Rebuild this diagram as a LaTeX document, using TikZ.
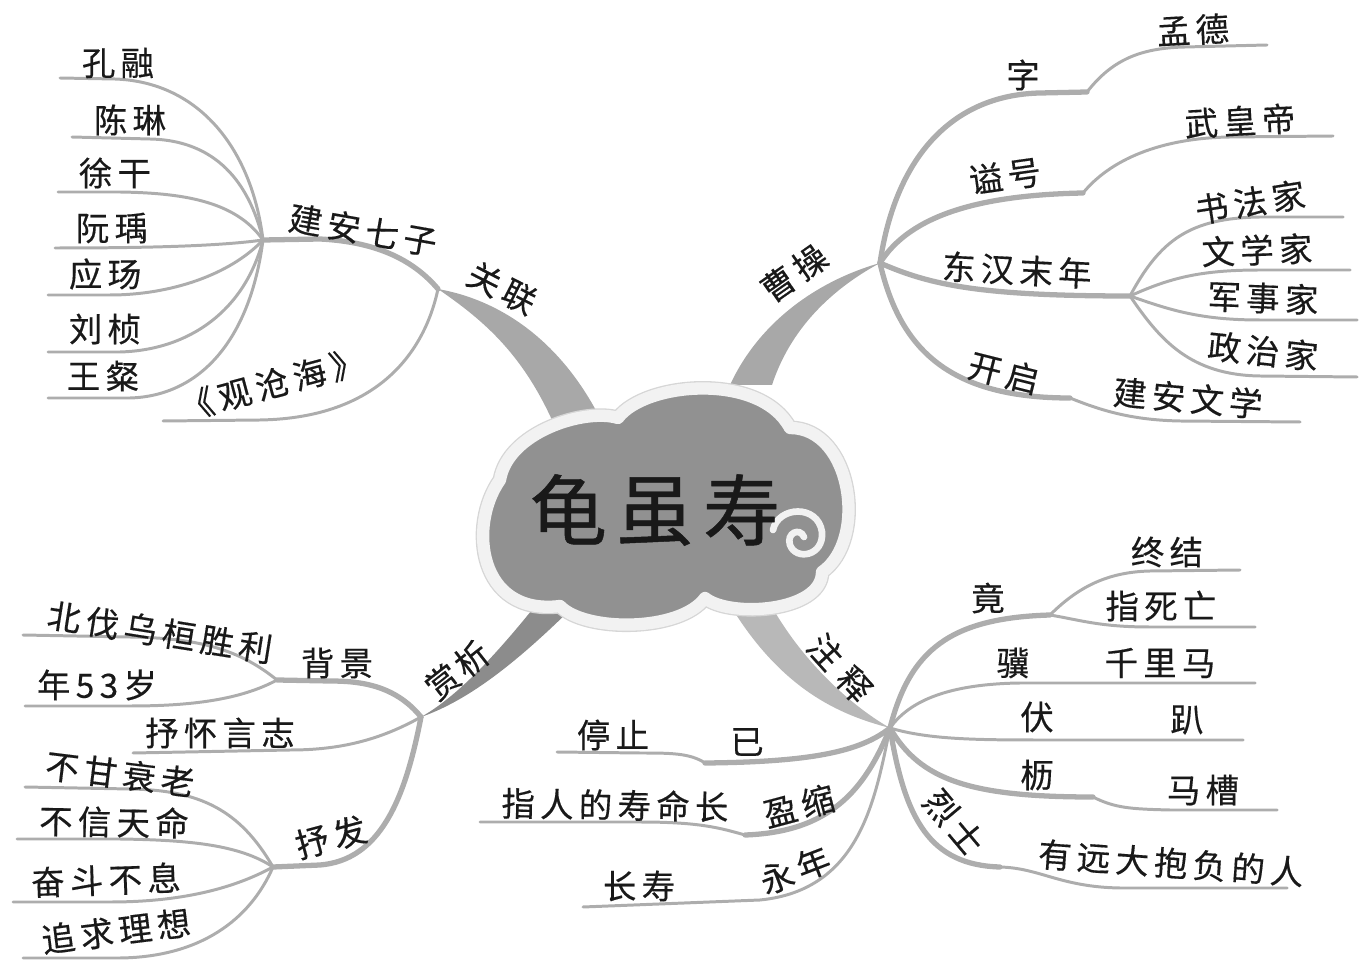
\documentclass[tikz,border=0pt]{standalone}
\usepackage{fontspec}
\newfontfamily\cjk[LetterSpace=16,FakeBold=0.4]{Noto Sans CJK SC}
\newfontfamily\cjkt[LetterSpace=12,FakeBold=0.6]{Noto Sans CJK SC}
\definecolor{lc}{gray}{0.68}
\definecolor{txt}{gray}{0.1}
\definecolor{brA}{gray}{0.66}
\definecolor{brB}{gray}{0.55}
\definecolor{brC}{gray}{0.72}
\definecolor{cloudfill}{gray}{0.57}
\definecolor{cloudring}{gray}{0.95}
\definecolor{cloudedge}{gray}{0.84}
\tikzset{
  lbl/.style={font=\cjk\fontsize{19}{21}\selectfont, text=txt, inner sep=0pt},
  leaf/.style={draw=lc, line width=1.7pt, line cap=round},
  midline/.style={draw=lc, line width=3pt, line cap=round},
  trunk/.style={fill=#1, draw=none},
}
\begin{document}
\begin{tikzpicture}[x=0.02cm, y=-0.02cm]
\useasboundingbox (0,0) rectangle (1363,962);

% ---------- junction coordinates ----------
\coordinate (J1) at (438,289);
\coordinate (J2) at (263,240);
\coordinate (J3) at (880,263);
\coordinate (J4) at (1130,296);
\coordinate (J5) at (421,717);
\coordinate (J6) at (277,680);
\coordinate (J7) at (273,867);
\coordinate (J8) at (890,728);
\coordinate (J9) at (1050,615);
% kinks
\coordinate (K1) at (1087,92);
\coordinate (K2) at (1083,193);
\coordinate (K3) at (1070,398);
\coordinate (K4) at (705,763);
\coordinate (K5) at (745,835);
\coordinate (K6) at (1093,797);
\coordinate (K7) at (1000,867);
% leaf ends
\coordinate (eKR) at (60,78);
\coordinate (eCL) at (72,137);
\coordinate (eXG) at (58,192);
\coordinate (eRY) at (55,248);
\coordinate (eYY) at (48,295);
\coordinate (eLZ) at (48,352);
\coordinate (eWC) at (48,398);
\coordinate (eGC) at (163,421);
\coordinate (eMD) at (1267,45);
\coordinate (eWH) at (1333,136);
\coordinate (eSF) at (1343,217);
\coordinate (eWX) at (1350,270);
\coordinate (eJS) at (1357,320);
\coordinate (eZZ) at (1357,377);
\coordinate (eJA) at (1300,422);
\coordinate (eBF) at (23,635);
\coordinate (eNS) at (25,706);
\coordinate (eSH) at (133,753);
\coordinate (eBG) at (25,787);
\coordinate (eBX) at (17,839);
\coordinate (eFD) at (13,902);
\coordinate (eZQ) at (23,958);
\coordinate (eTZ) at (557,752);
\coordinate (eZR) at (480,822);
\coordinate (eCS) at (583,907);
\coordinate (eZJ) at (1240,570);
\coordinate (eSW) at (1255,627);
\coordinate (eQL) at (1255,683);
\coordinate (ePA) at (1243,740);
\coordinate (eMC) at (1277,810);
\coordinate (eYY2) at (1287,888);
% trunk bases at the cloud
\coordinate (B1a) at (600,418);
\coordinate (B1b) at (552,420);
\coordinate (B2a) at (730,385);
\coordinate (B2b) at (772,385);
\coordinate (B3a) at (580,600);
\coordinate (B3b) at (540,600);
\coordinate (B4a) at (727,600);
\coordinate (B4b) at (767,598);

% ---------- trunks ----------
\path[trunk=brA] (J1) .. controls (500,300) and (560,340) .. (B1a) -- (B1b) .. controls (520,350) and (480,318) .. (J1) -- cycle;
\path[trunk=brA] (J3) .. controls (820,280) and (760,320) .. (B2a) -- (B2b) .. controls (790,330) and (830,290) .. (J3) -- cycle;
\path[trunk=brB] (J5) .. controls (470,700) and (520,660) .. (B3a) -- (B3b) .. controls (500,650) and (460,695) .. (J5) -- cycle;
\path[trunk=brC] (J8) .. controls (840,715) and (780,690) .. (B4a) -- (B4b) .. controls (800,660) and (850,705) .. (J8) -- cycle;

% ---------- top-left group ----------
\draw[midline] (J2) -- (320,239) .. controls (380,242) and (415,262) .. (J1);
\draw[leaf] (J1) .. controls (425,350) and (380,418) .. (260,420) -- (eGC);
\draw[leaf] (J2) .. controls (252,150) and (200,82) .. (115,79) -- (eKR);
\draw[leaf] (J2) .. controls (245,165) and (200,140) .. (150,139) -- (eCL);
\draw[leaf] (J2) .. controls (235,200) and (180,193) .. (120,192) -- (eXG);
\draw[leaf] (J2) .. controls (220,246) and (150,248) .. (eRY);
\draw[leaf] (J2) .. controls (230,275) and (170,295) .. (110,295) -- (eYY);
\draw[leaf] (J2) .. controls (245,310) and (190,350) .. (120,352) -- (eLZ);
\draw[leaf] (J2) .. controls (250,340) and (200,396) .. (130,398) -- (eWC);

% ---------- top-right group ----------
\draw[midline] (J3) .. controls (895,160) and (950,95) .. (1040,93) -- (K1);
\draw[leaf] (K1) .. controls (1112,60) and (1140,48) .. (1185,47) -- (eMD);
\draw[midline] (J3) .. controls (910,215) and (980,195) .. (K2);
\draw[leaf] (K2) .. controls (1110,160) and (1160,138) .. (1230,137) -- (eWH);
\draw[midline] (J3) .. controls (930,285) and (980,296) .. (J4);
\draw[leaf] (J4) .. controls (1160,240) and (1190,218) .. (1260,217) -- (eSF);
\draw[leaf] (J4) .. controls (1170,278) and (1200,270) .. (1260,270) -- (eWX);
\draw[leaf] (J4) .. controls (1170,310) and (1200,320) .. (1260,320) -- (eJS);
\draw[leaf] (J4) .. controls (1160,340) and (1190,375) .. (1260,376) -- (eZZ);
\draw[midline] (J3) .. controls (900,350) and (950,398) .. (K3);
\draw[leaf] (K3) .. controls (1100,410) and (1130,420) .. (1180,421) -- (eJA);

% ---------- bottom-left group ----------
\draw[midline] (J5) .. controls (395,685) and (360,681) .. (330,681) -- (J6);
\draw[leaf] (J6) .. controls (240,650) and (200,638) .. (130,637) -- (eBF);
\draw[leaf] (J6) .. controls (240,700) and (190,706) .. (130,706) -- (eNS);
\draw[leaf] (J5) .. controls (380,740) and (340,750) .. (290,750) -- (eSH);
\draw[midline] (J5) .. controls (405,800) and (380,860) .. (320,865) -- (J7);
\draw[leaf] (J7) .. controls (240,810) and (200,790) .. (130,789) -- (eBG);
\draw[leaf] (J7) .. controls (240,845) and (190,840) .. (120,839) -- (eBX);
\draw[leaf] (J7) .. controls (240,885) and (190,902) .. (110,902) -- (eFD);
\draw[leaf] (J7) .. controls (250,920) and (200,957) .. (120,958) -- (eZQ);

% ---------- bottom-right group ----------
\draw[midline] (J8) .. controls (860,752) and (810,762) .. (K4);
\draw[leaf] (K4) .. controls (690,753) and (670,753) .. (640,753) -- (eTZ);
\draw[midline] (J8) .. controls (865,790) and (830,832) .. (K5);
\draw[leaf] (K5) .. controls (720,828) and (700,822) .. (640,822) -- (eZR);
\draw[leaf] (J8) .. controls (875,800) and (860,890) .. (760,900) -- (eCS);
\draw[midline] (J8) .. controls (910,650) and (950,618) .. (J9);
\draw[leaf] (J9) .. controls (1080,585) and (1110,572) .. (1150,571) -- (eZJ);
\draw[leaf] (J9) .. controls (1080,620) and (1100,627) .. (1150,627) -- (eSW);
\draw[leaf] (J8) .. controls (910,700) and (950,684) .. (1020,683) -- (eQL);
\draw[leaf] (J8) .. controls (930,740) and (980,740) .. (1050,740) -- (ePA);
\draw[midline] (J8) .. controls (920,780) and (970,797) .. (K6);
\draw[leaf] (K6) .. controls (1115,808) and (1130,809) .. (1170,810) -- (eMC);
\draw[midline] (J8) .. controls (905,820) and (930,865) .. (K7);
\draw[leaf] (K7) .. controls (1040,868) and (1060,887) .. (1120,888) -- (eYY2);

% ---------- cloud ----------
\path[fill=cloudfill, draw=cloudring, line width=7pt, line join=round,
      preaction={draw=cloudedge, line width=8.5pt, line join=round}]
  (618,418) .. controls (645,382) and (760,372) .. (790,428)
  .. controls (852,428) and (868,540) .. (822,572)
  .. controls (822,612) and (730,618) .. (705,598)
  .. controls (680,632) and (585,632) .. (560,606)
  .. controls (478,616) and (468,525) .. (500,480)
  .. controls (508,432) and (585,408) .. (618,418) -- cycle;
\draw[cloudring, line width=3.8pt, line cap=round]
  (773,530) .. controls (778,506) and (818,504) .. (822,532)
  .. controls (824,556) and (796,561) .. (790,545)
  .. controls (786,533) and (800,527) .. (804,537);
\node[font=\cjkt\fontsize{44}{48}\selectfont, text=txt, inner sep=0pt] (title) at (655,510) {龟虽寿};

% ---------- labels ----------
\node[lbl] (tKR) at (118,63) {孔融};
\node[lbl] (tCL) at (130,120) {陈琳};
\node[lbl] (tXG) at (115,173) {徐干};
\node[lbl] (tRY) at (112,228) {阮瑀};
\node[lbl] (tYY) at (105,274) {应玚};
\node[lbl] (tLZ) at (105,329) {刘桢};
\node[lbl] (tWC) at (103,376) {王粲};
\node[lbl, rotate=-10] (tJA7) at (363,230) {建安七子};
\node[lbl, rotate=15] (tGCH) at (272,384) {《观沧海》};
\node[lbl, rotate=-27] (tGL) at (502,288) {关联};

\node[lbl, rotate=35] (tCC) at (794,273) {曹操};
\node[lbl] (tZi) at (1023,75) {字};
\node[lbl, rotate=3] (tMD) at (1193,30) {孟德};
\node[lbl, rotate=8] (tSH) at (1005,176) {谥号};
\node[lbl, rotate=3] (tWHD) at (1240,121) {武皇帝};
\node[lbl, rotate=-3] (tDH) at (1017,270) {东汉末年};
\node[lbl, rotate=9] (tSFJ) at (1250,202) {书法家};
\node[lbl, rotate=2] (tWXJ) at (1257,250) {文学家};
\node[lbl, rotate=-2] (tJSJ) at (1263,298) {军事家};
\node[lbl, rotate=-6] (tZZJ) at (1263,351) {政治家};
\node[lbl, rotate=-14] (tKQ) at (1004,373) {开启};
\node[lbl, rotate=-5] (tJAWX) at (1188,398) {建安文学};

\node[lbl, rotate=38] (tSX) at (457,670) {赏\hspace{2pt}析};
\node[lbl] (tBJ) at (337,663) {背景};
\node[lbl, rotate=-9] (tBF) at (160,632) {北伐乌桓胜利};
\node[lbl] (tNS) at (97,685) {年53岁};
\node[lbl] (tSHYZ) at (220,733) {抒怀言志};
\node[lbl, rotate=15] (tSF) at (331,837) {抒发};
\node[lbl, rotate=-7] (tBGSL) at (120,774) {不甘衰老};
\node[lbl, rotate=-1] (tBXTM) at (114,822) {不信天命};
\node[lbl, rotate=2] (tFDBX) at (106,880) {奋斗不息};
\node[lbl, rotate=7] (tZQLX) at (116,931) {追求理想};

\node[lbl, rotate=-48] (tZS) at (840,668) {注\hspace{6pt}释};
\node[lbl] (tTZ) at (613,735) {停止};
\node[lbl] (tYi) at (747,742) {已};
\node[lbl, rotate=15] (tYS) at (799,806) {盈缩};
\node[lbl, rotate=-1] (tZRD) at (615,805) {指人的寿命长};
\node[lbl, rotate=21] (tYN) at (795,870) {永年};
\node[lbl] (tCSh) at (639,886) {长寿};
\node[lbl] (tJing) at (988,598) {竟};
\node[lbl] (tZJ) at (1167,552) {终结};
\node[lbl] (tZSW) at (1161,606) {指死亡};
\node[lbl] (tJi) at (1013,663) {骥};
\node[lbl] (tQLM) at (1160,663) {千里马};
\node[lbl] (tFu) at (1037,717) {伏};
\node[lbl] (tPa) at (1187,720) {趴};
\node[lbl] (tLi) at (1037,775) {枥};
\node[lbl] (tMC) at (1203,790) {马槽};
\node[lbl, rotate=-50] (tLS) at (954,822) {烈\hspace{3pt}士};
\node[lbl, rotate=-4] (tYYD) at (1171,863) {有远大抱负的人};
\end{tikzpicture}
\end{document}
